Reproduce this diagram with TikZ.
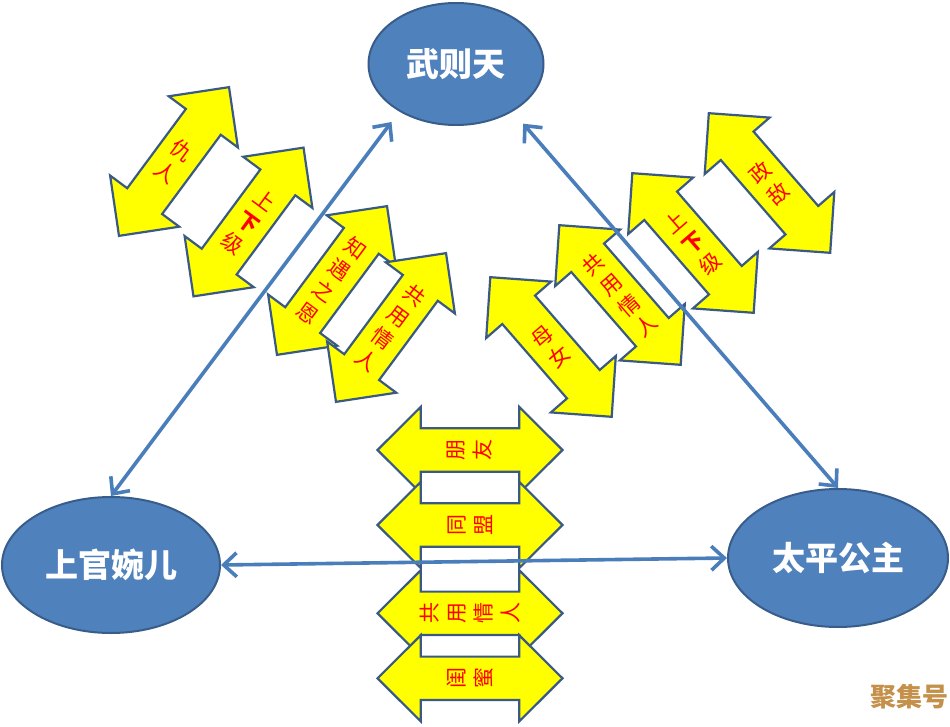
\documentclass[tikz,border=0pt]{standalone}
\usepackage{fontspec}
\newfontfamily\cjk{Noto Sans CJK SC}
\usetikzlibrary{arrows.meta,shapes.geometric}
\definecolor{ellfill}{HTML}{4F81BD}
\definecolor{ellline}{HTML}{385D8A}
\definecolor{connline}{HTML}{4A7EBB}
\definecolor{arrfill}{HTML}{FFFF00}
\definecolor{arrline}{HTML}{3A5A85}
\definecolor{arrtext}{HTML}{FF0000}
\definecolor{wmcol}{HTML}{C4904A}
\tikzset{
  ell/.style={ellipse, fill=ellfill, draw=ellline, line width=2pt, text=white,
    font=\cjk\bfseries\fontsize{33}{33}\selectfont, inner sep=0pt},
  arrowshape/.style={fill=arrfill, draw=arrline, line width=2.2pt, line join=miter},
  arrowtext/.style={text=arrtext, font=\cjk\fontsize{21}{27}\selectfont, align=center, inner sep=0pt},
  conn/.style={draw=connline, line width=3.6pt,
    {Straight Barb[length=13pt,width=24pt]}-{Straight Barb[length=13pt,width=24pt]}},
  dbl/.pic={
    \draw[arrowshape] (0,-92.5) -- (43,-49.3) -- (21.7,-49.3) -- (21.7,49.3) -- (43,49.3)
      -- (0,92.5) -- (-43,49.3) -- (-21.7,49.3) -- (-21.7,-49.3) -- (-43,-49.3) -- cycle;
    \node[arrowtext, transform shape] (-t) at (0,0) {#1};
  }
}
\begin{document}
\begin{tikzpicture}[x=1pt,y=-1pt]
\useasboundingbox (0,0) rectangle (950,727);
\fill[white] (0,0) rectangle (950,727);

% left group
\pic (l1) [rotate=-36.5] at (174,161.5) {dbl={仇\\人}};
\pic (l2) [rotate=-36.5] at (248.5,222) {dbl={上\\{\bfseries 下}\\级}};
\pic (l3) [rotate=-36.5] at (332,280.5) {dbl={知\\遇\\之\\恩}};
\pic (l4) [rotate=-36.5] at (391,327.5) {dbl={共\\用\\情\\人}};

% right group
\pic (r1) [rotate=41] at (551,347) {dbl={母\\女}};
\pic (r2) [rotate=41] at (620,295) {dbl={共\\用\\情\\人}};
\pic (r3) [rotate=41] at (693,243) {dbl={上\\{\bfseries 下}\\级}};
\pic (r4) [rotate=41] at (769.5,183) {dbl={政\\敌}};

% bottom group
\pic (b1) [rotate=90] at (470,450) {dbl={朋\\友}};
\pic (b2) [rotate=90] at (470,525) {dbl={同\\盟}};
\pic (b3) [rotate=90] at (470,613.3) {dbl={共\\用\\情\\人}};
\pic (b4) [rotate=90] at (470,678.3) {dbl={闺\\蜜}};

% people
\node[ell, minimum width=175pt, minimum height=122pt] (wzt) at (456,64) {武则天};
\node[ell, minimum width=218pt, minimum height=136pt] (sgwe) at (111,565) {上官婉儿};
\node[ell, minimum width=220pt, minimum height=138pt] (tpgz) at (838,558) {太平公主};

% connectors
\draw[conn, shorten >=13pt] (sgwe.north) -- (wzt.220.8);
\draw[conn, shorten <=16pt] (wzt.320.4) -- (tpgz.north);
\draw[conn] (sgwe.east) -- (tpgz.west);

% watermark
\node[font=\cjk\bfseries\fontsize{26}{26}\selectfont, text=wmcol] (wm) at (909,697) {聚集号};
\end{tikzpicture}
\end{document}
